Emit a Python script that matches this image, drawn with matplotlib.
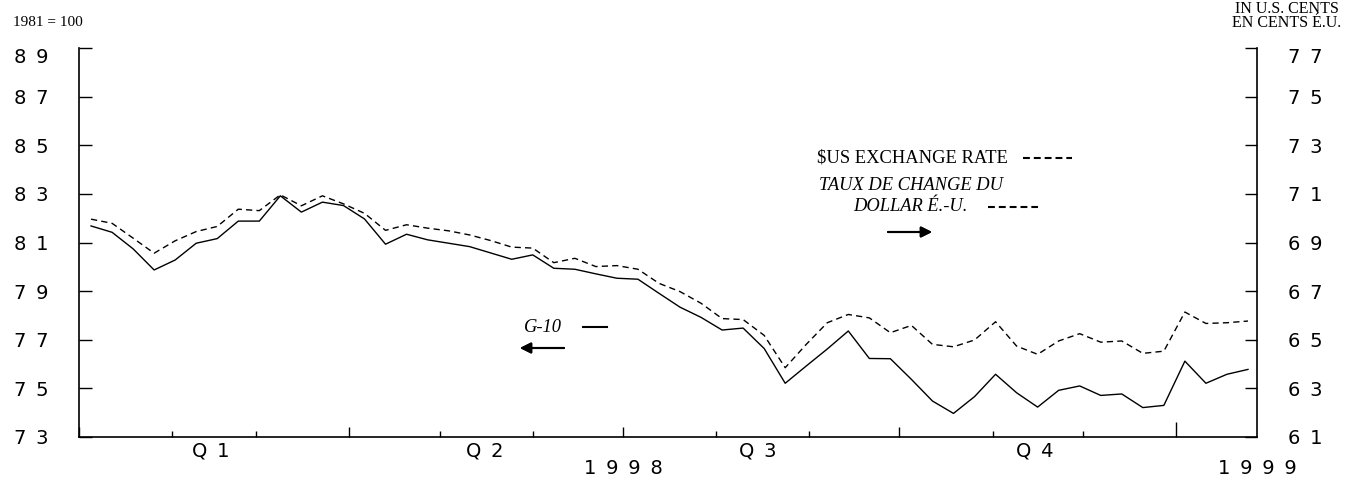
import matplotlib
matplotlib.use('Agg')
import matplotlib.pyplot as plt
import matplotlib.dates as mdates
import matplotlib.transforms as mtransforms
from matplotlib.lines import Line2D
from matplotlib.ticker import NullFormatter
import pandas as pd

W, H = 1356, 480

# weekly observations, Jan 1998 - Jan 1999
weeks = pd.date_range('1998-01-05', periods=56, freq='7D')

# G-10 index (1981 = 100), left axis
g10 = [81.68, 81.42, 80.74, 79.87, 80.28, 80.97, 81.16, 81.88, 81.88, 82.92,
       82.25, 82.66, 82.52, 81.97, 80.93, 81.34, 81.11, 80.97, 80.83, 80.57,
       80.31, 80.49, 79.94, 79.90, 79.71, 79.53, 79.49, 78.91, 78.34, 77.92,
       77.40, 77.48, 76.64, 75.21, 75.92, 76.62, 77.36, 76.23, 76.22, 75.37,
       74.48, 73.97, 74.66, 75.58, 74.82, 74.23, 74.92, 75.10, 74.71, 74.77,
       74.21, 74.30, 76.12, 75.21, 75.58, 75.78]

# $US exchange rate in US cents, right axis
usd = [69.96, 69.79, 69.18, 68.56, 69.07, 69.45, 69.66, 70.37, 70.31, 70.96,
       70.51, 70.92, 70.59, 70.20, 69.50, 69.73, 69.59, 69.48, 69.31, 69.08,
       68.81, 68.77, 68.17, 68.35, 68.01, 68.05, 67.90, 67.32, 66.98, 66.50,
       65.87, 65.83, 65.18, 63.85, 64.81, 65.70, 66.04, 65.90, 65.29, 65.59,
       64.81, 64.71, 64.99, 65.74, 64.74, 64.40, 64.95, 65.25, 64.90, 64.95,
       64.44, 64.53, 66.14, 65.67, 65.70, 65.77]

left_ticks = list(range(73, 90, 2))
right_ticks = list(range(61, 78, 2))
quarter_labels = ['Q1', 'Q2', 'Q3', 'Q4']
quarter_mid = pd.to_datetime(['1998-02-14', '1998-05-16', '1998-08-15', '1998-11-15'])
year_labels = ['1998', '1999']
year_pos = pd.to_datetime(['1998-07-01', '1999-01-28'])

SERIF = 'Liberation Serif'
SANS = 'DejaVu Sans'
TICK_SIZE = 14


def spaced(s):
    # wide, letter-spaced look of the original tick font
    return '\u2002'.join(str(s))


def fx(x):
    return x / W


def fy(y):
    return 1 - y / H


fig = plt.figure(figsize=(W / 100, H / 100), dpi=100, facecolor='white')
ax = fig.add_axes([fx(79), fy(437), (1257 - 79) / W, (437 - 48) / H])
ax2 = ax.twinx()

ax.plot(weeks, g10, color='black', lw=1.0)
ax2.plot(weeks, usd, color='black', lw=1.0, linestyle=(0, (4.5, 3)))

ax.set_xlim(pd.Timestamp('1998-01-01'), pd.Timestamp('1999-01-28'))
ax.set_ylim(73, 89)
ax2.set_ylim(61, 77)

# spines
ax.spines['top'].set_visible(False)
ax.spines['right'].set_visible(False)
for s in ['top', 'left', 'bottom']:
    ax2.spines[s].set_visible(False)
for a in (ax, ax2):
    for spine in a.spines.values():
        spine.set_linewidth(1.2)

# y ticks
ax.set_yticks(left_ticks)
ax.set_yticklabels([spaced(v) for v in left_ticks], family=SANS, fontsize=TICK_SIZE)
ax.tick_params(axis='y', direction='in', length=9, width=1, pad=22)
ax2.set_yticks(right_ticks)
ax2.set_yticklabels([spaced(v) for v in right_ticks], family=SANS, fontsize=TICK_SIZE)
ax2.tick_params(axis='y', direction='in', length=9, width=1, pad=22)
ax.get_yticklabels()[-1].set_va('top')
ax2.get_yticklabels()[-1].set_va('top')

# x ticks: months minor, quarters major, year boundary longer
ax.xaxis.set_major_locator(mdates.MonthLocator(bymonth=[1, 4, 7, 10]))
ax.xaxis.set_minor_locator(mdates.MonthLocator())
ax.xaxis.set_major_formatter(NullFormatter())
ax.xaxis.set_minor_formatter(NullFormatter())
ax.tick_params(axis='x', which='major', direction='in', length=7, width=1)
ax.tick_params(axis='x', which='minor', direction='in', length=4, width=1)

fig.canvas.draw()
year_tick = mdates.date2num(pd.Timestamp('1999-01-01'))
for tick, loc in zip(ax.xaxis.get_major_ticks(), ax.xaxis.get_majorticklocs()):
    if abs(loc - year_tick) < 1:
        tick.tick1line.set_markersize(11)

trans = mtransforms.blended_transform_factory(ax.transData, fig.transFigure)
for lab, pos in zip(quarter_labels, quarter_mid):
    fig.text(mdates.date2num(pos), fy(451), spaced(lab), transform=trans,
             ha='center', va='center', family=SANS, fontsize=TICK_SIZE)
for lab, pos in zip(year_labels, year_pos):
    fig.text(mdates.date2num(pos), fy(468), spaced(lab), transform=trans,
             ha='center', va='center', family=SANS, fontsize=TICK_SIZE)

# unit captions
fig.text(fx(13), fy(26), '1981 = 100', family=SERIF, fontsize=11)
fig.text(fx(1339), fy(13), 'IN U.S. CENTS', family=SERIF, fontsize=11.5, ha='right')
fig.text(fx(1341), fy(27), 'EN CENTS É.U.', family=SERIF, fontsize=11.5, ha='right')

# legend annotations
fig.text(fx(817), fy(163), r'\$US EXCHANGE RATE', family=SERIF, fontsize=13.3)
fig.text(fx(819), fy(190), 'TAUX DE CHANGE DU', family=SERIF, style='italic', fontsize=13.3)
fig.text(fx(853), fy(211), 'DOLLAR É.-U.', family=SERIF, style='italic', fontsize=13.3)
fig.text(fx(524), fy(332), 'G-10', family=SERIF, style='italic', fontsize=13.3)

key_dash = (0, (3.3, 1.9))
fig.add_artist(Line2D([fx(1023), fx(1072)], [fy(158), fy(158)], color='black',
                      lw=1.5, linestyle=key_dash, transform=fig.transFigure))
fig.add_artist(Line2D([fx(988), fx(1038)], [fy(207), fy(207)], color='black',
                      lw=1.5, linestyle=key_dash, transform=fig.transFigure))
fig.add_artist(Line2D([fx(583), fx(607)], [fy(327), fy(327)], color='black',
                      lw=1.5, transform=fig.transFigure))

arrow = dict(arrowstyle='-|>', color='black', lw=1.5, mutation_scale=16,
             shrinkA=0, shrinkB=0)
fig.add_artist(plt.annotate('', xy=(fx(932), fy(232)), xytext=(fx(888), fy(232)),
                            xycoords='figure fraction', arrowprops=arrow))
fig.add_artist(plt.annotate('', xy=(fx(520), fy(348)), xytext=(fx(564), fy(348)),
                            xycoords='figure fraction', arrowprops=arrow))

plt.savefig('out.png', dpi=100, facecolor='white')
plt.close(fig)
